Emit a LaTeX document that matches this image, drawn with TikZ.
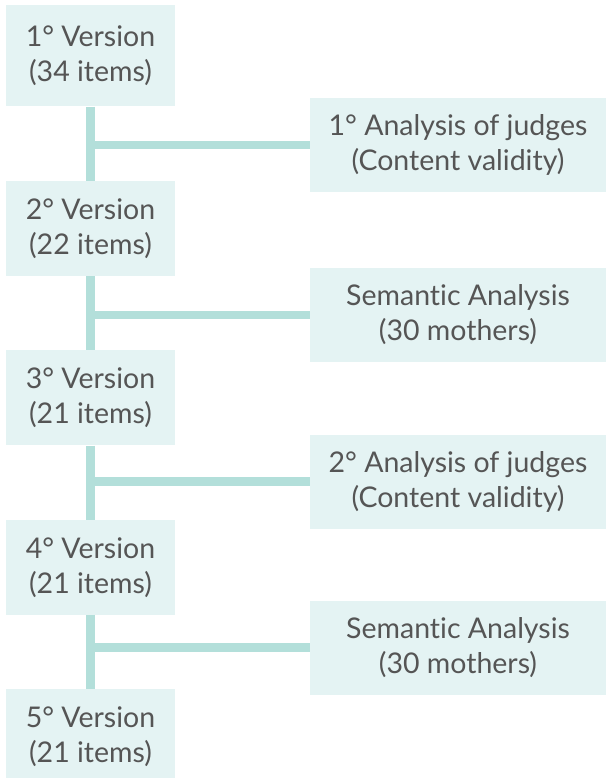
\documentclass[tikz,border=0pt]{standalone}
\usepackage{fontspec}
\setmainfont{Lato}[Ligatures={NoCommon}]
\usepackage{tikz}
\usetikzlibrary{positioning}
\definecolor{stagefill}{HTML}{E4F3F3}
\definecolor{stageline}{HTML}{B3DFDA}
\definecolor{stagetext}{HTML}{555555}

\begin{document}
\begin{tikzpicture}[x=1pt, y=1pt, node distance=74pt,
  version/.style={fill=stagefill, text=stagetext, minimum width=169pt,
    minimum height=95pt, align=center, inner sep=0pt,
    font=\fontsize{28.5}{35}\selectfont},
  review/.style={fill=stagefill, text=stagetext, minimum width=296pt,
    minimum height=94pt, align=center, inner sep=0pt,
    font=\fontsize{28.5}{35}\selectfont},
  trunk/.style={draw=stageline, line width=8.5pt}]

  \useasboundingbox (0,0) rectangle (606,-778);

  % the versions of the scale
  \node[version, minimum height=101pt] (v1) at (90.5,-56) {1° Version\\(34 items)};
  \node[version, below=of v1] (v2) {2° Version\\(22 items)};
  \node[version, below=of v2] (v3) {3° Version\\(21 items)};
  \node[version, below=of v3] (v4) {4° Version\\(21 items)};
  \node[version, below=of v4] (v5) {5° Version\\(21 items)};

  % the analyses between them
  \node[review] (judges1) at (458,-145) {1° Analysis of judges\\(Content validity)};
  \node[review] (semantic1) at (458,-315) {Semantic Analysis\\(30 mothers)};
  \node[review] (judges2) at (458,-481.5) {2° Analysis of judges\\(Content validity)};
  \node[review] (semantic2) at (458,-647.5) {Semantic Analysis\\(30 mothers)};

  \draw[trunk] (v1) -- (v2);
  \draw[trunk] (v2) -- (v3);
  \draw[trunk] (v3) -- (v4);
  \draw[trunk] (v4) -- (v5);
  \draw[trunk] (v1.center |- judges1.west) -- (judges1.west);
  \draw[trunk] (v1.center |- semantic1.west) -- (semantic1.west);
  \draw[trunk] (v1.center |- judges2.west) -- (judges2.west);
  \draw[trunk] (v1.center |- semantic2.west) -- (semantic2.west);
\end{tikzpicture}
\end{document}
